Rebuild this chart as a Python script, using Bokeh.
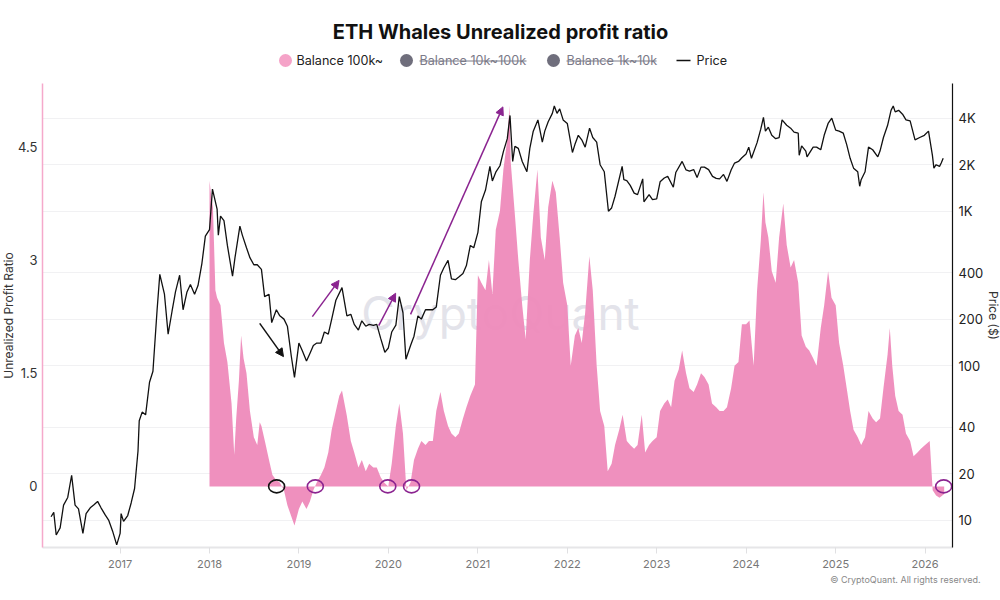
import pandas as pd
from math import pi
from bokeh.plotting import figure
from bokeh.layouts import column, row
from bokeh.models import (Range1d, LogScale, LogAxis, FixedTicker, Label, Arrow, Title,
                          NormalHead, DatetimeTickFormatter)
from bokeh.core.properties import value
from bokeh.embed import file_html
from bokeh.resources import INLINE

# ---------------- data ----------------
price_dates = [
    "2016-03-25", "2016-04-05", "2016-04-15", "2016-05-01", "2016-05-15", "2016-06-01", "2016-06-17",
    "2016-07-01", "2016-07-15", "2016-08-02", "2016-08-15", "2016-09-01", "2016-09-15", "2016-10-01",
    "2016-10-15", "2016-11-01", "2016-11-15", "2016-12-01", "2016-12-18",
    "2017-01-01", "2017-01-05", "2017-01-15", "2017-02-01", "2017-02-15", "2017-03-01", "2017-03-15",
    "2017-03-20", "2017-04-01", "2017-04-15", "2017-05-01", "2017-05-15", "2017-06-01", "2017-06-12",
    "2017-07-01", "2017-07-16", "2017-08-01", "2017-08-15", "2017-09-01", "2017-09-15", "2017-10-01",
    "2017-10-15", "2017-11-01", "2017-11-15", "2017-12-01", "2017-12-15",
    "2018-01-01", "2018-01-13", "2018-02-01", "2018-02-06", "2018-02-15", "2018-03-01", "2018-03-15",
    "2018-04-05", "2018-04-15", "2018-05-05", "2018-05-15", "2018-06-01", "2018-06-15", "2018-07-01",
    "2018-07-15", "2018-08-01", "2018-08-14", "2018-09-01", "2018-09-12", "2018-10-01", "2018-10-15",
    "2018-11-01", "2018-11-15", "2018-12-01", "2018-12-14",
    "2019-01-01", "2019-01-15", "2019-02-01", "2019-02-15", "2019-03-01", "2019-03-15", "2019-04-01",
    "2019-04-15", "2019-05-01", "2019-05-15", "2019-06-01", "2019-06-26", "2019-07-16", "2019-08-01",
    "2019-08-15", "2019-09-01", "2019-09-15", "2019-10-01", "2019-10-15", "2019-11-01", "2019-11-15",
    "2019-12-01", "2019-12-18",
    "2020-01-01", "2020-01-15", "2020-02-01", "2020-02-15", "2020-03-01", "2020-03-13", "2020-04-01",
    "2020-04-15", "2020-05-01", "2020-05-15", "2020-06-01", "2020-06-15", "2020-07-01", "2020-07-15",
    "2020-08-01", "2020-08-15", "2020-09-01", "2020-09-15", "2020-10-01", "2020-10-15", "2020-11-01",
    "2020-11-15", "2020-12-01", "2020-12-15",
    "2021-01-01", "2021-01-15", "2021-02-01", "2021-02-19", "2021-03-01", "2021-03-15", "2021-04-01",
    "2021-04-15", "2021-05-01", "2021-05-12", "2021-05-23", "2021-06-01", "2021-06-15", "2021-07-01",
    "2021-07-20", "2021-08-01", "2021-08-15", "2021-09-03", "2021-09-21", "2021-10-01", "2021-10-15",
    "2021-11-01", "2021-11-09", "2021-11-20", "2021-12-01", "2021-12-15",
    "2022-01-01", "2022-01-22", "2022-02-01", "2022-02-15", "2022-03-01", "2022-03-15", "2022-04-02",
    "2022-04-15", "2022-05-01", "2022-05-15", "2022-06-01", "2022-06-18", "2022-07-01", "2022-07-15",
    "2022-08-13", "2022-08-20", "2022-09-01", "2022-09-15", "2022-10-01", "2022-10-15", "2022-11-05",
    "2022-11-10", "2022-12-01", "2022-12-15",
    "2023-01-01", "2023-01-15", "2023-02-01", "2023-02-15", "2023-03-10", "2023-03-20", "2023-04-15",
    "2023-05-01", "2023-05-15", "2023-06-01", "2023-06-15", "2023-07-01", "2023-07-15", "2023-08-01",
    "2023-08-17", "2023-09-01", "2023-09-15", "2023-10-01", "2023-10-15", "2023-11-01", "2023-11-15",
    "2023-12-01", "2023-12-15",
    "2024-01-01", "2024-01-12", "2024-01-23", "2024-02-15", "2024-03-01", "2024-03-12", "2024-03-20",
    "2024-04-01", "2024-04-15", "2024-05-01", "2024-05-15", "2024-05-27", "2024-06-15", "2024-07-01",
    "2024-07-15", "2024-08-01", "2024-08-05", "2024-08-15", "2024-09-01", "2024-09-06", "2024-10-01",
    "2024-10-15", "2024-11-01", "2024-11-15", "2024-12-01", "2024-12-16",
    "2025-01-01", "2025-01-15", "2025-02-01", "2025-02-15", "2025-03-01", "2025-03-15", "2025-04-01",
    "2025-04-09", "2025-04-15", "2025-05-01", "2025-05-15", "2025-06-01", "2025-06-22", "2025-07-01",
    "2025-07-15", "2025-08-01", "2025-08-15", "2025-08-24", "2025-09-01", "2025-09-15", "2025-10-01",
    "2025-10-15", "2025-11-01", "2025-11-21", "2025-12-10", "2025-12-29",
    "2026-01-15", "2026-01-31", "2026-02-06", "2026-02-15", "2026-03-01", "2026-03-08", "2026-03-16",
]
price_values = [
    10.5, 11.2, 8.0, 8.9, 12.5, 14.0, 19.5,
    12.5, 11.8, 8.2, 11.0, 12.0, 12.5, 13.2,
    12.0, 10.8, 10.0, 8.5, 6.9,
    8.2, 11.0, 9.8, 10.7, 12.9, 16.0, 28.0,
    44.0, 50, 48, 78, 92, 230, 390,
    290, 160, 225, 300, 385, 230, 300,
    335, 290, 330, 460, 690,
    760, 1390, 1030, 700, 930, 870, 600,
    380, 500, 800, 700, 580, 500, 450,
    450, 420, 280, 290, 190, 230, 210,
    200, 180, 115, 84,
    140, 125, 107, 120, 135, 140, 140,
    165, 160, 200, 265, 320, 210, 215,
    185, 170, 195, 180, 185, 182, 185,
    150, 122,
    130, 165, 183, 280, 220, 110, 135,
    155, 210, 200, 230, 230, 230, 240,
    385, 430, 480, 365, 360, 375, 395,
    445, 600, 580,
    730, 1150, 1370, 1950, 1570, 1790, 1970,
    2430, 2950, 4170, 2100, 2630, 2550, 2100,
    1800, 2550, 3300, 3900, 2800, 3300, 3800,
    4300, 4800, 4300, 4600, 3900,
    3700, 2400, 2700, 3100, 2900, 2600, 3450,
    3000, 2800, 2000, 1800, 1000, 1050, 1250,
    1950, 1600, 1580, 1470, 1310, 1280, 1620,
    1150, 1280, 1190,
    1200, 1550, 1640, 1680, 1430, 1780, 2100,
    1850, 1820, 1860, 1650, 1930, 1930, 1860,
    1680, 1630, 1620, 1730, 1560, 1850, 2050,
    2100, 2220,
    2350, 2600, 2200, 2780, 3400, 4050, 3300,
    3500, 3100, 2950, 3000, 3900, 3600, 3450,
    3250, 3200, 2300, 2650, 2450, 2250, 2600,
    2600, 2500, 3100, 3700, 4000,
    3350, 3300, 3200, 2700, 2200, 1900, 1800,
    1450, 1600, 1800, 2600, 2500, 2250, 2450,
    3000, 3600, 4500, 4800, 4400, 4500, 4250,
    3900, 3850, 2900, 3000, 3100,
    3300, 2300, 1900, 2000, 1950, 2050, 2200,
]

ratio_dates = [
    "2018-01-01", "2018-01-08", "2018-01-15", "2018-01-25", "2018-02-01", "2018-02-15", "2018-03-01",
    "2018-03-15", "2018-04-01", "2018-04-12", "2018-04-20", "2018-05-01", "2018-05-10", "2018-05-20",
    "2018-06-01", "2018-06-15", "2018-07-01", "2018-07-15", "2018-07-25", "2018-08-01", "2018-08-15",
    "2018-09-01", "2018-09-15", "2018-10-01", "2018-10-15", "2018-11-01", "2018-11-15", "2018-12-01",
    "2018-12-14",
    "2019-01-01", "2019-01-15", "2019-02-01", "2019-02-15", "2019-03-01", "2019-03-15", "2019-04-01",
    "2019-04-15", "2019-05-01", "2019-05-15", "2019-06-01", "2019-06-15", "2019-06-26", "2019-07-15",
    "2019-08-01", "2019-08-15", "2019-09-01", "2019-09-15", "2019-10-01", "2019-10-15", "2019-11-01",
    "2019-11-15", "2019-12-01", "2019-12-15",
    "2020-01-01", "2020-01-15", "2020-02-01", "2020-02-15", "2020-03-01", "2020-03-15", "2020-04-01",
    "2020-04-15", "2020-05-01", "2020-05-15", "2020-06-01", "2020-06-15", "2020-07-01", "2020-07-15",
    "2020-08-01", "2020-08-15", "2020-09-01", "2020-09-15", "2020-10-01", "2020-10-15", "2020-11-01",
    "2020-11-15", "2020-12-01", "2020-12-20",
    "2021-01-01", "2021-01-15", "2021-02-01", "2021-02-15", "2021-03-01", "2021-03-15", "2021-04-01",
    "2021-04-15", "2021-05-01", "2021-05-10", "2021-05-15", "2021-06-01", "2021-06-15", "2021-07-01",
    "2021-07-15", "2021-08-01", "2021-08-15", "2021-09-01", "2021-09-15", "2021-10-01", "2021-10-15",
    "2021-11-01", "2021-11-15", "2021-12-01", "2021-12-15",
    "2022-01-01", "2022-01-15", "2022-02-01", "2022-02-15", "2022-03-01", "2022-03-15", "2022-04-01",
    "2022-04-15", "2022-05-01", "2022-05-15", "2022-06-01", "2022-06-15", "2022-07-01", "2022-07-15",
    "2022-08-01", "2022-08-15", "2022-09-01", "2022-09-15", "2022-10-01", "2022-10-15", "2022-11-01",
    "2022-11-15", "2022-12-01", "2022-12-15",
    "2023-01-01", "2023-01-15", "2023-02-01", "2023-02-15", "2023-03-01", "2023-03-15", "2023-04-01",
    "2023-04-15", "2023-05-01", "2023-05-15", "2023-06-01", "2023-06-15", "2023-07-01", "2023-07-15",
    "2023-08-01", "2023-08-15", "2023-09-01", "2023-09-15", "2023-10-01", "2023-10-15", "2023-11-01",
    "2023-11-15", "2023-12-01", "2023-12-15",
    "2024-01-01", "2024-01-15", "2024-02-01", "2024-02-15", "2024-03-01", "2024-03-12", "2024-03-20",
    "2024-04-01", "2024-04-15", "2024-05-01", "2024-05-15", "2024-06-01", "2024-06-15", "2024-07-01",
    "2024-07-15", "2024-08-01", "2024-08-15", "2024-09-01", "2024-09-15", "2024-10-01", "2024-10-15",
    "2024-11-01", "2024-11-15", "2024-12-01", "2024-12-15",
    "2025-01-01", "2025-01-15", "2025-02-01", "2025-02-15", "2025-03-01", "2025-03-15", "2025-04-01",
    "2025-04-15", "2025-05-01", "2025-05-15", "2025-06-01", "2025-06-15", "2025-07-01", "2025-07-15",
    "2025-08-01", "2025-08-10", "2025-08-20", "2025-09-01", "2025-09-15", "2025-10-01", "2025-10-15",
    "2025-11-01", "2025-11-15", "2025-12-01", "2025-12-15",
    "2026-01-01", "2026-01-20", "2026-02-01", "2026-02-15", "2026-03-01", "2026-03-20",
]
ratio_values = [
    4.05, 3.85, 3.7, 2.6, 2.5, 2.4, 1.9,
    1.65, 1.1, 0.42, 0.9, 1.4, 2.0, 1.7,
    1.5, 1.0, 0.65, 0.55, 0.85, 0.8, 0.6,
    0.35, 0.15, 0.08, 0.05, -0.05, -0.25, -0.4,
    -0.52,
    -0.3, -0.2, -0.3, -0.2, -0.05, 0.05, 0.15,
    0.25, 0.45, 0.75, 1.0, 1.2, 1.27, 0.95,
    0.6, 0.45, 0.25, 0.35, 0.2, 0.3, 0.25,
    0.25, 0.12, 0.05,
    0.0, 0.3, 0.8, 1.1, 0.7, -0.05, 0.05,
    0.35, 0.5, 0.6, 0.55, 0.6, 0.6, 1.0,
    1.25, 1.0, 0.8, 0.7, 0.65, 0.7, 0.9,
    1.05, 1.2, 1.35,
    2.8, 2.7, 2.6, 3.0, 2.55, 3.4, 3.65,
    4.2, 4.6, 5.05, 4.3, 3.6, 3.0, 2.4,
    1.95, 3.0, 3.6, 4.2, 3.3, 3.0, 3.7,
    4.05, 3.9, 3.3, 2.7,
    2.4, 1.6, 2.0, 2.1, 1.9, 2.3, 3.05,
    2.6, 1.6, 1.0, 0.8, 0.2, 0.3, 0.55,
    0.75, 0.95, 0.6, 0.55, 0.5, 0.55, 0.95,
    0.45, 0.55, 0.6,
    0.65, 1.0, 1.1, 1.15, 1.05, 1.4, 1.55,
    1.8, 1.5, 1.3, 1.25, 1.35, 1.5, 1.45,
    1.35, 1.1, 1.05, 1.0, 1.0, 1.05, 1.3,
    1.6, 1.65, 2.15,
    2.15, 2.2, 1.6, 2.6, 3.25, 3.9, 3.5,
    3.3, 2.85, 2.7, 3.3, 3.75, 3.2, 2.9,
    3.0, 2.7, 2.0, 1.85, 1.8, 1.7, 1.6,
    2.1, 2.4, 2.85, 2.5,
    2.4, 1.9, 1.6, 1.3, 1.0, 0.75, 0.65,
    0.55, 0.65, 1.0, 0.9, 0.85, 0.9, 1.3,
    1.75, 2.1, 1.6, 1.2, 1.0, 0.95, 0.7,
    0.6, 0.4, 0.45, 0.5,
    0.55, 0.6, -0.05, -0.12, -0.15, -0.1,
]

ratio_ticks = [0, 1.5, 3, 4.5]
price_ticks = [10, 20, 40, 100, 200, 400, 1000, 2000, 4000]
price_tick_labels = ["10", "20", "40", "100", "200", "400", "1K", "2K", "4K"]
year_ticks = ["2017", "2018", "2019", "2020", "2021", "2022", "2023", "2024", "2025", "2026"]
legend_labels = ["Balance 100k~", "Balance 10k~100k", "Balance 1k~10k", "Price"]

# annotations (start date, start ratio, end date, end ratio, colour)
arrow_specs = [
    ("2018-07-25", 2.16, "2018-10-30", 1.72, "#111111"),
    ("2019-02-25", 2.25, "2019-06-14", 2.73, "#8b2490"),
    ("2019-11-23", 2.13, "2020-01-31", 2.56, "#8b2490"),
    ("2020-04-01", 2.28, "2021-04-13", 5.03, "#8b2490"),
]
circle_dates = ["2018-10-02", "2019-03-09", "2019-12-30", "2020-04-05", "2026-03-18"]
circle_colors = ["#111111", "#8b2490", "#8b2490", "#8b2490", "#8b2490"]

FONT = "Inter"
PINK = "#ee8aba"
GRAY_DOT = "#6f6e7c"
GRAY_TXT = "#7b7a88"

# page geometry of the plotting frame
FRAME_L, FRAME_R, FRAME_T, FRAME_B = 39, 956, 83, 547


def blank(width, height, x_end, y_top, y_bottom):
    """A bare figure whose frame is the whole canvas (page-pixel coordinates)."""
    f = figure(width=width, height=height, output_backend="svg", toolbar_location=None,
               x_range=Range1d(0, x_end), y_range=Range1d(y_bottom, y_top),
               x_axis_location=None, y_axis_location=None, min_border=0)
    f.outline_line_color = None
    f.grid.visible = False
    f.background_fill_color = "white"
    f.border_fill_color = "white"
    return f


# ---------------- header: title and legend ----------------
head = blank(1000, FRAME_T, 1000, 0, FRAME_T)
head.text(x=[500], y=[31], text=["ETH Whales Unrealized profit ratio"], text_align="center",
          text_baseline="middle", text_font=value(FONT), text_font_size="20px",
          text_font_style="bold", text_color="#111111")

LEG_Y = 60
dot_x = [285, 406, 553]
dot_c = ["#f5a3c8", GRAY_DOT, GRAY_DOT]
head.scatter(x=dot_x, y=[LEG_Y] * 3, marker="circle", size=13, fill_color=dot_c, line_color=None)
head.text(x=[296, 419, 566, 696], y=[LEG_Y] * 4, text=legend_labels, text_align="left",
          text_baseline="middle", text_font=value(FONT), text_font_size="12.6px",
          text_color=["#222222", GRAY_TXT, GRAY_TXT, "#222222"])
# strike-through for hidden series, and the price line sample
head.segment(x0=[419, 566], y0=[LEG_Y + 0.5] * 2, x1=[526, 656], y1=[LEG_Y + 0.5] * 2,
             line_color=GRAY_TXT, line_width=1)
head.segment(x0=[676], y0=[LEG_Y], x1=[690], y1=[LEG_Y], line_color="#111111", line_width=1.5)

# ---------------- main chart ----------------
MAIN_H = 600 - FRAME_T
LEFT_W, RIGHT_W = 15, 14
MAIN_W = 1000 - LEFT_W - RIGHT_W

x_start = pd.Timestamp("2016-02-19")
x_end = pd.Timestamp("2026-04-23")

p = figure(width=MAIN_W, height=MAIN_H, x_axis_type="datetime", output_backend="svg",
           toolbar_location=None,
           x_range=Range1d(x_start, x_end), y_range=Range1d(-0.81, 5.34),
           min_border_left=FRAME_L - LEFT_W, min_border_right=MAIN_W + LEFT_W - FRAME_R,
           min_border_top=0, min_border_bottom=600 - FRAME_B)
p.outline_line_color = None
p.background_fill_color = "white"
p.border_fill_color = "white"

p.extra_y_ranges = {"price": Range1d(6.64, 6714)}
p.extra_y_scales = {"price": LogScale()}

# grid follows the price axis
p.xgrid.visible = False
p.ygrid[0].y_range_name = "price"
p.ygrid[0].ticker = FixedTicker(ticks=price_ticks)
p.ygrid[0].grid_line_color = "#f1f1f3"
p.ygrid[0].grid_line_width = 1

# left axis (ratio)
ly = p.yaxis[0]
ly.ticker = FixedTicker(ticks=ratio_ticks)
ly.major_label_overrides = {0: "0", 1.5: "1.5", 3: "3", 4.5: "4.5"}
ly.axis_line_color = "#f5a9cb"
ly.axis_line_width = 1.5
ly.major_tick_line_color = None
ly.minor_tick_line_color = None
ly.major_tick_out = 0
ly.major_tick_in = 0
ly.major_label_standoff = 5
ly.major_label_text_font = FONT
ly.major_label_text_font_size = "13px"
ly.major_label_text_color = "#333333"

# right axis (price, log)
ry = LogAxis(y_range_name="price", ticker=FixedTicker(ticks=price_ticks))
ry.major_label_overrides = {t: l for t, l in zip(price_ticks, price_tick_labels)}
ry.axis_line_color = "#111111"
ry.axis_line_width = 1.2
ry.major_tick_line_color = None
ry.minor_tick_line_color = None
ry.major_tick_out = 0
ry.major_tick_in = 0
ry.major_label_standoff = 6
ry.major_label_text_font = FONT
ry.major_label_text_font_size = "13px"
ry.major_label_text_color = "#222222"
p.add_layout(ry, "right")

# bottom axis
bx = p.xaxis[0]
bx.ticker = FixedTicker(ticks=[pd.Timestamp(f"{y}-01-01").timestamp() * 1000 for y in year_ticks])
bx.formatter = DatetimeTickFormatter(years="%Y", months="%Y", days="%Y", hours="%Y")
bx.axis_line_color = "#e6e6e8"
bx.axis_line_width = 2
bx.major_tick_line_color = "#e0e0e2"
bx.major_tick_out = 6
bx.major_tick_in = 0
bx.minor_tick_line_color = None
bx.major_label_standoff = 6
bx.major_label_text_font = FONT
bx.major_label_text_font_size = "11px"
bx.major_label_text_color = "#777777"

# copyright line under the axis
p.add_layout(Title(text="© CryptoQuant. All rights reserved.", align="right", text_font=FONT,
                   text_font_size="9px", text_font_style="normal", text_color="#888888",
                   standoff=2, offset=-28), "below")

# watermark
p.add_layout(Label(x=458, y=235, x_units="screen", y_units="screen", text="CryptoQuant",
                   text_align="center", text_baseline="middle", text_font=FONT,
                   text_font_size="46px", text_color="#e3e3ea", level="underlay"))

# ratio bars (area)
p.varea(x=pd.to_datetime(ratio_dates), y1=[0] * len(ratio_values), y2=ratio_values,
        fill_color=PINK, fill_alpha=0.95)

# price line
p.line(x=pd.to_datetime(price_dates), y=price_values, y_range_name="price",
       line_color="#111111", line_width=1.3)

# circles
p.ellipse(x=pd.to_datetime(circle_dates), y=[0] * len(circle_dates), width=16, height=13,
          width_units="screen", height_units="screen", fill_alpha=0,
          line_color=circle_colors, line_width=1.6)

# arrows
for xs, ys, xe, ye, c in arrow_specs:
    p.add_layout(Arrow(end=NormalHead(size=8, fill_color=c, line_color=c),
                       x_start=pd.Timestamp(xs).timestamp() * 1000, y_start=ys,
                       x_end=pd.Timestamp(xe).timestamp() * 1000, y_end=ye,
                       line_color=c, line_width=1.5))

# ---------------- side strips with the axis titles ----------------
# (their frames are aligned with the main frame by the row layout)
MID_Y = (FRAME_T + FRAME_B) / 2
left = blank(LEFT_W, MAIN_H, LEFT_W, FRAME_T, FRAME_B)
left.text(x=[8], y=[MID_Y], text=["Unrealized Profit Ratio"], angle=pi / 2, text_align="center",
          text_baseline="middle", text_font=value(FONT), text_font_size="12px",
          text_color="#333333")
right = blank(RIGHT_W, MAIN_H, RIGHT_W, FRAME_T, FRAME_B)
right.text(x=[7], y=[MID_Y], text=["Price ($)"], angle=-pi / 2, text_align="center",
           text_baseline="middle", text_font=value(FONT), text_font_size="12px",
           text_color="#333333")

layout = column(head, row(left, p, right, spacing=0), spacing=0)
open("out.html", "w").write(file_html(layout, INLINE))
